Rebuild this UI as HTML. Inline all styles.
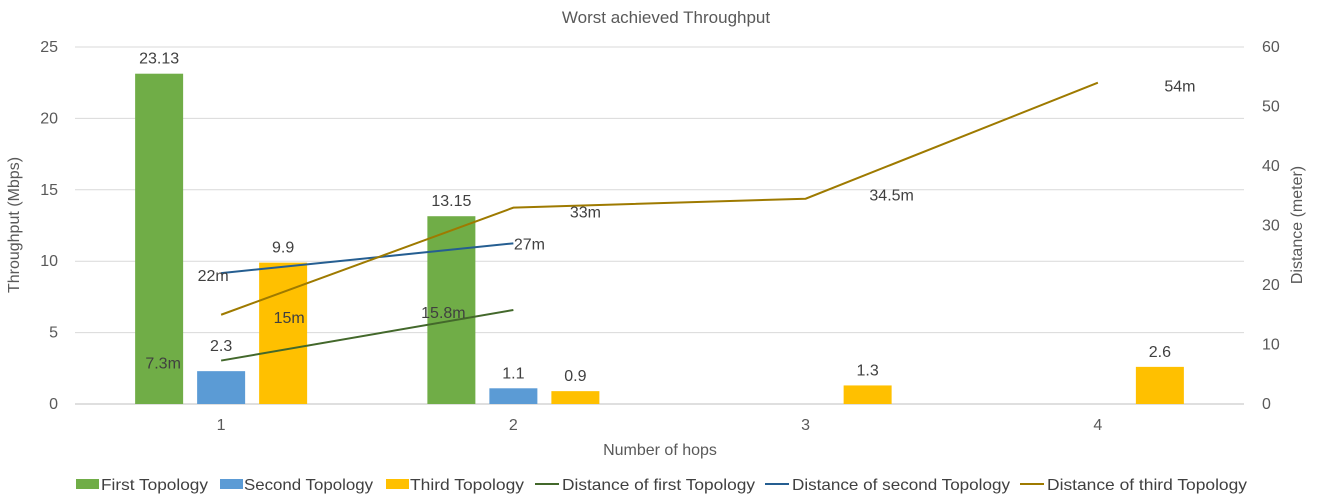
<!DOCTYPE html>
<html><head><meta charset="utf-8"><style>
body{margin:0;background:#fff;}
svg{display:block;font-family:"Liberation Sans",sans-serif;}
</style></head><body>
<svg id="c" width="1322" height="503"></svg>
<script>
const categories=["1","2","3","4"];
const firstTopology=[23.13,13.15,null,null];
const secondTopology=[2.3,1.1,null,null];
const thirdTopology=[9.9,0.9,1.3,2.6];
const distFirst=[7.3,15.8,null,null];
const distSecond=[22,27,null,null];
const distThird=[15,33,34.5,54];
const leftTicks=[0,5,10,15,20,25];
const rightTicks=[0,10,20,30,40,50,60];
const distLabelOffsets=[[[-58,8],[-70,8]],[[-8,8],[16,6]],[[68,8],[72,10],[86,2],[82,9]]];

const svg=document.getElementById('c');
const NS='http://www.w3.org/2000/svg';
function mk(t,a,p){const e=document.createElementNS(NS,t);for(const k in a)e.setAttribute(k,a[k]);(p||svg).appendChild(e);return e;}
const L=75,R=1244,Y0=404,YT=47;
const yL=v=>Y0-(v/25)*(Y0-YT);
const yR=v=>Y0-(v/60)*(Y0-YT);
const step=(R-L)/categories.length;
const xC=i=>L+step*(i+0.5);
const FS=16;

let t=mk('text',{x:666,y:23,'text-anchor':'middle','font-size':17,fill:'#595959'});t.textContent='Worst achieved Throughput';


leftTicks.forEach(v=>{
  const g=mk('line',{x1:L,x2:R,y1:yL(v),y2:yL(v),stroke:v===0?'#bfbfbf':'#d9d9d9','stroke-width':1});
  
  const l=mk('text',{x:58,y:yL(v)+5,'text-anchor':'end','font-size':FS,fill:'#595959'});l.textContent=v;
  
});
rightTicks.forEach(v=>{
  const l=mk('text',{x:1262,y:yR(v)+5,'font-size':FS,fill:'#595959'});l.textContent=v;
  
});
categories.forEach((c,i)=>{
  const l=mk('text',{x:xC(i),y:430,'text-anchor':'middle','font-size':FS,fill:'#595959'});l.textContent=c;
  
});
t=mk('text',{x:660,y:455,'text-anchor':'middle','font-size':FS,fill:'#595959'});t.textContent='Number of hops';

t=mk('text',{x:0,y:0,'text-anchor':'middle','font-size':FS,fill:'#595959',transform:'translate(19,225) rotate(-90)'});t.textContent='Throughput (Mbps)';

t=mk('text',{x:0,y:0,'text-anchor':'middle','font-size':FS,fill:'#595959',transform:'translate(1302,225) rotate(-90)'});t.textContent='Distance (meter)';


const bw=48,off=62;
[[firstTopology,'#70AD47',-off],[secondTopology,'#5B9BD5',0],[thirdTopology,'#FFC000',off]].forEach(([arr,col,o],si)=>{
  arr.forEach((v,i)=>{
    if(v==null)return;
    const b=mk('rect',{x:xC(i)+o-bw/2,y:yL(v),width:bw,height:Y0-yL(v),fill:col});
    
    const extra=(si===1&&i===0)?10:0;
    const l=mk('text',{x:xC(i)+o,y:yL(v)-10-extra,'text-anchor':'middle','font-size':FS,fill:'#404040'});l.textContent=v;
    
  });
});
[[distFirst,'#43682B'],[distSecond,'#255E91'],[distThird,'#9E7A00']].forEach(([arr,col],si)=>{
  const pts=[];arr.forEach((v,i)=>{if(v!=null)pts.push([xC(i),yR(v),v]);});
  const p=mk('polyline',{points:pts.map(q=>q[0]+','+q[1]).join(' '),fill:'none',stroke:col,'stroke-width':2});
  
  pts.forEach((q,k)=>{
    const o=distLabelOffsets[si][k]||[0,-10];
    const l=mk('text',{x:q[0]+o[0],y:q[1]+o[1],'text-anchor':'middle','font-size':FS,fill:'#404040'});l.textContent=q[2]+'m';
    
  });
});
const legend=[['rect','#70AD47','First Topology',76,101,107],['rect','#5B9BD5','Second Topology',220,244,129],['rect','#FFC000','Third Topology',386,410,114],['line','#43682B','Distance of first Topology',535,562,193],['line','#255E91','Distance of second Topology',765,792,218],['line','#9E7A00','Distance of third Topology',1020,1047,200]];
legend.forEach(([k,col,txt,x,tx,w])=>{
  const g=mk('g',{});
  
  if(k==='rect'){mk('rect',{x:x,y:479,width:23,height:10,fill:col},g);}
  else{mk('line',{x1:x,x2:x+24,y1:484,y2:484,stroke:col,'stroke-width':2},g);}
  const l=mk('text',{x:tx,y:490,'font-size':FS,fill:'#404040',textLength:w,lengthAdjust:'spacingAndGlyphs'},g);l.textContent=txt;
});
</script>
</body></html>
